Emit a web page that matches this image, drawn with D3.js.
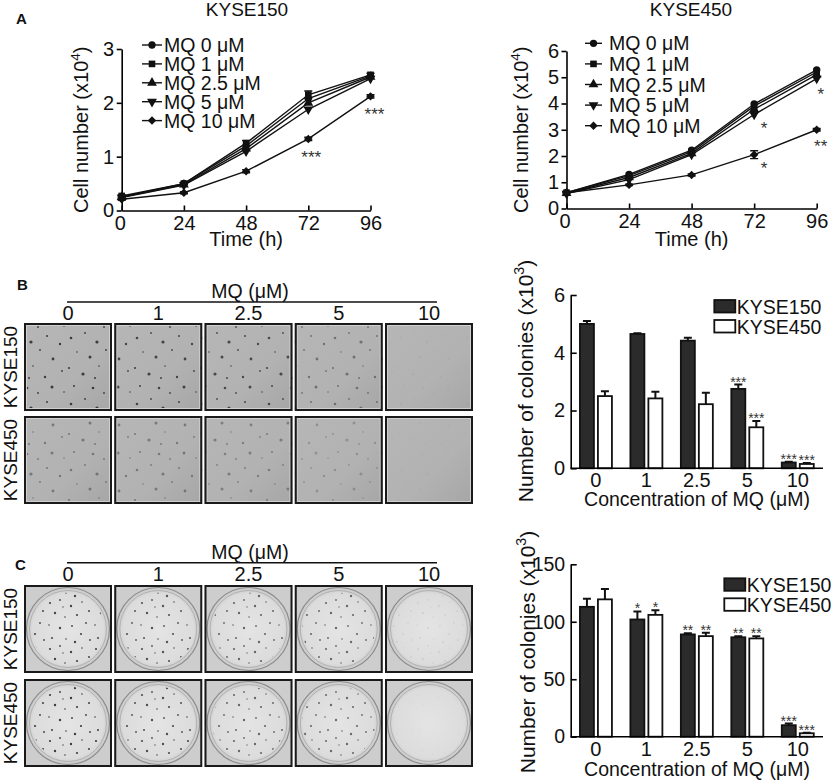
<!DOCTYPE html>
<html><head><meta charset="utf-8">
<script src="https://cdn.jsdelivr.net/npm/d3@7"></script>
<style>
body{margin:0;background:#fff;}
svg{display:block;}
</style></head><body>
<svg id="fig" width="832" height="782"></svg>
<script>
// ---------------- DATA ----------------
const timePoints = [0, 24, 48, 72, 96];
const doseLabels = ["MQ 0 μM", "MQ 1 μM", "MQ 2.5 μM", "MQ 5 μM", "MQ 10 μM"];

// Panel A, KYSE150 (cell number x10^4)
const k150_mq0  = [0.25, 0.50, 1.20, 2.08, 2.50];
const k150_mq1  = [0.27, 0.50, 1.25, 2.15, 2.52];
const k150_mq25 = [0.25, 0.48, 1.15, 2.00, 2.48];
const k150_mq5  = [0.24, 0.47, 1.10, 1.88, 2.45];
const k150_mq10 = [0.21, 0.33, 0.73, 1.33, 2.12];
const k150_err1  = [0.02, 0.02, 0.05, 0.07, 0.03];
const k150_err10 = [0.02, 0.02, 0.03, 0.03, 0.03];
const k150_sig10 = ["", "", "", "***", "***"];
const k150_ticks = [0, 1, 2, 3];

// Panel A, KYSE450 (cell number x10^4)
const k450_mq0  = [0.60, 1.30, 2.22, 3.98, 5.28];
const k450_mq1  = [0.60, 1.25, 2.17, 3.90, 5.20];
const k450_mq25 = [0.58, 1.18, 2.10, 3.78, 5.10];
const k450_mq5  = [0.57, 1.10, 2.05, 3.58, 4.95];
const k450_mq10 = [0.60, 0.90, 1.28, 2.05, 3.00];
const k450_err10 = [0.03, 0.03, 0.04, 0.15, 0.05];
const k450_sig5  = ["", "", "", "*", "*"];
const k450_sig10 = ["", "", "", "*", "**"];
const k450_ticks = [0, 1, 2, 3, 4, 5, 6];

// Panels B / C categories
const concLabels = ["0", "1", "2.5", "5", "10"];
const cellLines = ["KYSE150", "KYSE450"];

// Panel B soft agar colonies (x10^3)
const agar150    = [5.00, 4.65, 4.42, 2.75, 0.20];
const agar150Err = [0.10, 0.03, 0.10, 0.15, 0.03];
const agar450    = [2.50, 2.42, 2.22, 1.42, 0.15];
const agar450Err = [0.17, 0.23, 0.40, 0.22, 0.03];
const agarSig150 = ["", "", "", "***", "***"];
const agarSig450 = ["", "", "", "***", "***"];
const agarTicks  = [0, 2, 4, 6];

// Panel C foci colonies (x10^3)
const plate150    = [113, 102, 89, 86.5, 10];
const plate150Err = [7, 7, 1, 1, 1.5];
const plate450    = [119.5, 106, 87.5, 85.5, 3];
const plate450Err = [9, 4, 3, 2, 0.5];
const plateSig150 = ["", "*", "**", "**", "***"];
const plateSig450 = ["", "*", "**", "**", "***"];
const plateTicks  = [0, 50, 100, 150];

// ---------------- DRAWING ----------------
const FF = '"Liberation Sans", Arial, Helvetica, sans-serif';
const svg = d3.select("#fig").attr("font-family", FF);
const defs = svg.append("defs");

function txt(parent, x, y, s, size, opts = {}) {
  const t = parent.append("text").attr("x", x).attr("y", y)
    .attr("font-size", size).attr("fill", opts.fill || "#111")
    .attr("text-anchor", opts.anchor || "start").text(s);
  if (opts.weight) t.attr("font-weight", opts.weight);
  return t;
}
function ylabel(parent, x, y, main, sup, size) {
  const t = parent.append("text").attr("transform", `translate(${x},${y}) rotate(-90)`)
    .attr("text-anchor", "middle").attr("font-size", size).attr("fill", "#111");
  t.append("tspan").text(main);
  t.append("tspan").attr("font-size", size * 0.68).attr("dy", -size * 0.42).text(sup);
  t.append("tspan").attr("dy", size * 0.42).text(")");
}
function styleAxis(a, size) {
  a.attr("font-family", FF);
  a.selectAll("path,line").attr("stroke", "#000").attr("stroke-width", 1.6);
  a.selectAll("text").attr("font-size", size).attr("fill", "#111");
}

// panel letters
txt(svg, 16, 24, "A", 15, { weight: "bold" });
txt(svg, 17, 290, "B", 15, { weight: "bold" });
txt(svg, 15, 570, "C", 15, { weight: "bold" });

// ---------- Line charts ----------
const markerDefs = [
  { sym: d3.symbolCircle, size: 42, rot: 0 },
  { sym: d3.symbolSquare, size: 44, rot: 0 },
  { sym: d3.symbolTriangle, size: 42, rot: 0 },
  { sym: d3.symbolTriangle, size: 42, rot: 180 },
  { sym: d3.symbolSquare, size: 36, rot: 45 }
];

function lineChart(o) {
  const g = svg.append("g");
  const x = d3.scaleLinear([0, 96], o.xr);
  const y = d3.scaleLinear([0, o.ymax], o.yr);

  const ax = g.append("g").attr("transform", `translate(0,${o.yr[0]})`)
    .call(d3.axisBottom(x).tickValues(timePoints).tickSizeInner(-5).tickSizeOuter(0).tickPadding(5));
  const ay = g.append("g").attr("transform", `translate(${o.xr[0]},0)`)
    .call(d3.axisLeft(y).tickValues(o.ticks).tickSizeInner(5).tickSizeOuter(0).tickPadding(2.5).tickFormat(d3.format("d")));
  styleAxis(ax, 20); styleAxis(ay, 20);
  ax.selectAll(".tick").filter(d => d === 0).select("text").attr("dx", -2);

  const line = d3.line().x((d, i) => x(timePoints[i])).y(d => y(d));
  o.series.forEach((s) => {
    g.append("path").datum(s.vals).attr("d", line).attr("fill", "none")
      .attr("stroke", "#111").attr("stroke-width", 1.4);
  });
  o.series.forEach((s, si) => {
    const m = markerDefs[si];
    if (s.err) {
      s.vals.forEach((v, i) => {
        const e = s.err[i]; if (!e) return;
        const cx = x(timePoints[i]);
        g.append("path").attr("d", `M${cx},${y(v - e)}V${y(v + e)}M${cx - 4},${y(v - e)}H${cx + 4}M${cx - 4},${y(v + e)}H${cx + 4}`)
          .attr("stroke", "#111").attr("stroke-width", 1.4).attr("fill", "none");
      });
    }
    s.vals.forEach((v, i) => {
      g.append("path").attr("d", d3.symbol(m.sym, m.size)())
        .attr("transform", `translate(${x(timePoints[i])},${y(v)}) rotate(${m.rot})`)
        .attr("fill", "#111");
    });
    if (s.sig) {
      s.vals.forEach((v, i) => {
        const lab = s.sig[i]; if (!lab) return;
        const off = o.starOff(timePoints[i]);
        txt(g, x(timePoints[i]) + off[0], y(v) + off[1] + 0.575 * 17, lab, 17, { anchor: "middle", fill: "#333" });
      });
    }
  });

  // legend
  doseLabels.forEach((lab, i) => {
    const cy = o.leg.y0 + i * o.leg.dy;
    const m = markerDefs[i];
    g.append("line").attr("x1", o.leg.x0).attr("x2", o.leg.x1).attr("y1", cy).attr("y2", cy)
      .attr("stroke", "#111").attr("stroke-width", 1.4);
    g.append("path").attr("d", d3.symbol(m.sym, m.size)())
      .attr("transform", `translate(${(o.leg.x0 + o.leg.x1) / 2},${cy}) rotate(${m.rot})`).attr("fill", "#111");
    txt(g, o.leg.tx, cy + 7, lab, 19.5);
  });

  txt(g, o.titleX, 16, o.title, 19, { anchor: "middle" });
  txt(g, (o.xr[0] + o.xr[1]) / 2, 246, "Time (h)", 20, { anchor: "middle" });
  ylabel(g, o.ylabX, (o.yr[0] + o.yr[1]) / 2, "Cell number (x10", "4", 20);
}

lineChart({
  xr: [121.7, 370.5], yr: [210.5, 49], ymax: 3, ticks: k150_ticks,
  series: [
    { vals: k150_mq0 }, { vals: k150_mq1, err: k150_err1 }, { vals: k150_mq25 },
    { vals: k150_mq5 }, { vals: k150_mq10, err: k150_err10, sig: k150_sig10 }
  ],
  starOff: t => t === 96 ? [4, 14] : [3, 14],
  leg: { x0: 142, x1: 162, tx: 164, y0: 45, dy: 18.9 },
  title: "KYSE150", titleX: 247, ylabX: 88
});
lineChart({
  xr: [566.5, 816.7], yr: [208.5, 51], ymax: 6, ticks: k450_ticks,
  series: [
    { vals: k450_mq0 }, { vals: k450_mq1 }, { vals: k450_mq25 },
    { vals: k450_mq5, sig: k450_sig5 }, { vals: k450_mq10, err: k450_err10, sig: k450_sig10 }
  ],
  starOff: t => t === 96 ? [4, 12] : [10, 10],
  leg: { x0: 585, x1: 602, tx: 609, y0: 43.3, dy: 20.6 },
  title: "KYSE450", titleX: 691, ylabX: 528
});

// ---------- Bar charts ----------
function barChart(o) {
  const g = svg.append("g");
  const x = d3.scaleBand(concLabels, [570.7, 823]);
  const inner = d3.scaleBand(cellLines, [-16, 16]).paddingInner(0.222);
  const y = d3.scaleLinear([0, o.ymax], o.yr);

  const sets = [
    { vals: o.v150, err: o.e150, sig: o.s150, fill: "#2b2b2b", key: cellLines[0] },
    { vals: o.v450, err: o.e450, sig: o.s450, fill: "#fff", key: cellLines[1] }
  ];
  sets.forEach(s => {
    s.vals.forEach((v, i) => {
      const bx = x(concLabels[i]) + x.bandwidth() / 2 + inner(s.key);
      const cx = bx + inner.bandwidth() / 2;
      const top = y(v + s.err[i]);
      g.append("path").attr("d", `M${cx},${y(v)}V${top}M${cx - 4},${top}H${cx + 4}`)
        .attr("stroke", "#111").attr("stroke-width", 2).attr("fill", "none");
      g.append("rect").attr("x", bx).attr("y", y(v)).attr("width", inner.bandwidth())
        .attr("height", y(0) - y(v)).attr("fill", s.fill).attr("stroke", "#111").attr("stroke-width", 1.8);
      if (s.sig[i]) txt(g, cx, top - 6 + 0.575 * 14, s.sig[i], 14, { anchor: "middle", fill: "#333" });
    });
  });

  const ax = g.append("g").attr("transform", `translate(0,${o.yr[0]})`)
    .call(d3.axisBottom(x).tickSize(0).tickPadding(4.8));
  ax.selectAll(".tick line").remove();
  const ay = g.append("g").attr("transform", `translate(570.7,0)`)
    .call(d3.axisLeft(y).tickValues(o.ticks).tickSizeInner(-6).tickSizeOuter(0).tickPadding(5.5).tickFormat(d3.format("d")));
  styleAxis(ax, 20); styleAxis(ay, o.tickSize);
  ax.select(".domain").attr("d", `M570.7,0H823`);

  // legend
  sets.forEach((s, i) => {
    const ly = o.leg.y + i * 20;
    g.append("rect").attr("x", o.leg.x).attr("y", ly).attr("width", 21).attr("height", 12.5)
      .attr("fill", s.fill).attr("stroke", "#111").attr("stroke-width", 1.8);
    txt(g, o.leg.x + 22.5, ly + 13.5, s.key, 19.5);
  });

  txt(g, 697, o.xlabY, "Concentration of MQ (μM)", 19.5, { anchor: "middle" });
  ylabel(g, o.ylabX, o.ylabY, "Number of colonies (x10", "3", 21);
}

barChart({
  yr: [468.3, 295], ymax: 6, ticks: agarTicks, tickSize: 20,
  v150: agar150, e150: agar150Err, s150: agarSig150,
  v450: agar450, e450: agar450Err, s450: agarSig450,
  leg: { x: 714.3, y: 300 }, xlabY: 506, ylabX: 533, ylabY: 381
});
barChart({
  yr: [736.7, 564.3], ymax: 150, ticks: plateTicks, tickSize: 19.5,
  v150: plate150, e150: plate150Err, s150: plateSig150,
  v450: plate450, e450: plate450Err, s450: plateSig450,
  leg: { x: 724.3, y: 578.3 }, xlabY: 776, ylabX: 535, ylabY: 652
});

// ---------- Photo panels (schematic stand-ins for the micrographs) ----------
// texture tiles for colonies (decorative only)
function colonyPattern(id, tile, color, spots) {
  const p = defs.append("pattern").attr("id", id).attr("patternUnits", "userSpaceOnUse")
    .attr("width", tile).attr("height", tile);
  spots.forEach(s => p.append("circle").attr("cx", s[0]).attr("cy", s[1]).attr("r", s[2]).attr("fill", color));
}
colonyPattern("agarDots", 66, "#262626",
  [[5,8,1.3],[19,3,0.9],[31,12,1.6],[47,6,1.0],[60,14,1.2],[11,22,0.8],[24,27,1.5],[40,20,0.9],[53,29,1.4],[3,38,1.1],
   [17,44,1.6],[33,36,0.8],[45,47,1.2],[62,41,0.9],[8,56,1.0],[27,58,1.3],[38,63,0.9],[52,57,1.5],[64,62,0.8],[29,48,1.0]]);
colonyPattern("plateDots", 46, "#333",
  [[4,5,1.1],[14,2,0.9],[25,8,1.2],[36,4,0.8],[43,13,1.0],[9,15,1.2],[19,19,0.8],[31,17,1.1],[40,25,0.9],
   [3,27,0.8],[14,30,1.2],[26,28,0.9],[35,36,1.1],[6,40,1.0],[20,41,0.8],[29,44,1.2],[44,42,0.9],[17,9,0.7]]);

const agarGrad = defs.append("linearGradient").attr("id", "agarGrad")
  .attr("x1", 0).attr("y1", 0).attr("x2", 1).attr("y2", 1);
agarGrad.append("stop").attr("offset", 0).attr("stop-color", "#b6b6b6");
agarGrad.append("stop").attr("offset", 0.6).attr("stop-color", "#b2b2b2");
agarGrad.append("stop").attr("offset", 1).attr("stop-color", "#a6a6a6");
const plateGrad = defs.append("radialGradient").attr("id", "plateGrad");
plateGrad.append("stop").attr("offset", 0).attr("stop-color", "#e4e4e4");
plateGrad.append("stop").attr("offset", 0.85).attr("stop-color", "#dcdcdc");
plateGrad.append("stop").attr("offset", 1).attr("stop-color", "#c9c9c9");

const col = d3.scaleBand(concLabels, [24, 473]).paddingInner(0.025);

function photoPanel(o) {
  const g = svg.append("g");
  txt(g, 250, o.titleY, "MQ (μM)", 19.5, { anchor: "middle" });
  g.append("line").attr("x1", col(concLabels[0]) + col.bandwidth() / 2 - 1).attr("x2", 437)
    .attr("y1", o.lineY).attr("y2", o.lineY).attr("stroke", "#111").attr("stroke-width", 1.4);
  concLabels.forEach(c => txt(g, col(c) + col.bandwidth() / 2, o.labY, c, 20, { anchor: "middle" }));
  cellLines.forEach((cl, r) => {
    const y0 = o.rows[r];
    const h = col.bandwidth();
    g.append("text").attr("transform", `translate(16.5,${y0 + h / 2}) rotate(-90)`)
      .attr("text-anchor", "middle").attr("font-size", 19).attr("fill", "#111").text(cl);
    const vals = r === 0 ? o.v150 : o.v450;
    const vmax = d3.max(o.v150.concat(o.v450));
    concLabels.forEach((c, i) => {
      const x0 = col(c);
      const dens = vals[i] / vmax;
      if (o.kind === "agar") {
        g.append("rect").attr("x", x0).attr("y", y0).attr("width", h).attr("height", h).attr("fill", "url(#agarGrad)");
        g.append("rect").attr("x", x0).attr("y", y0).attr("width", h).attr("height", h)
          .attr("fill", "url(#agarDots)").attr("opacity", dens * 0.85);
        g.append("rect").attr("x", x0 + 2.5).attr("y", y0 + 2.5).attr("width", h - 5).attr("height", h - 5)
          .attr("fill", "none").attr("stroke", "#d0d0d0").attr("stroke-width", 1);
      } else {
        const cx = x0 + h / 2, cy = y0 + h / 2;
        g.append("rect").attr("x", x0).attr("y", y0).attr("width", h).attr("height", h).attr("fill", "#cdcdcd");
        g.append("circle").attr("cx", cx).attr("cy", cy).attr("r", 41.5).attr("fill", "url(#plateGrad)")
          .attr("stroke", "#8c8c8c").attr("stroke-width", 1.2);
        g.append("circle").attr("cx", cx).attr("cy", cy).attr("r", 38.5).attr("fill", "none")
          .attr("stroke", "#b0b0b0").attr("stroke-width", 1);
        g.append("circle").attr("cx", cx).attr("cy", cy).attr("r", 36.5).attr("fill", "url(#plateDots)")
          .attr("opacity", dens * 0.95);
      }
      g.append("rect").attr("x", x0 + 1).attr("y", y0 + 1).attr("width", h - 2).attr("height", h - 2)
        .attr("fill", "none").attr("stroke", "#1a1a1a").attr("stroke-width", 2);
    });
  });
}

photoPanel({ kind: "agar", titleY: 298, lineY: 302, labY: 320, rows: [323, 416], v150: agar150, v450: agar450 });
photoPanel({ kind: "plate", titleY: 559, lineY: 562.7, labY: 581, rows: [585, 679], v150: plate150, v450: plate450 });
</script>
</body></html>
